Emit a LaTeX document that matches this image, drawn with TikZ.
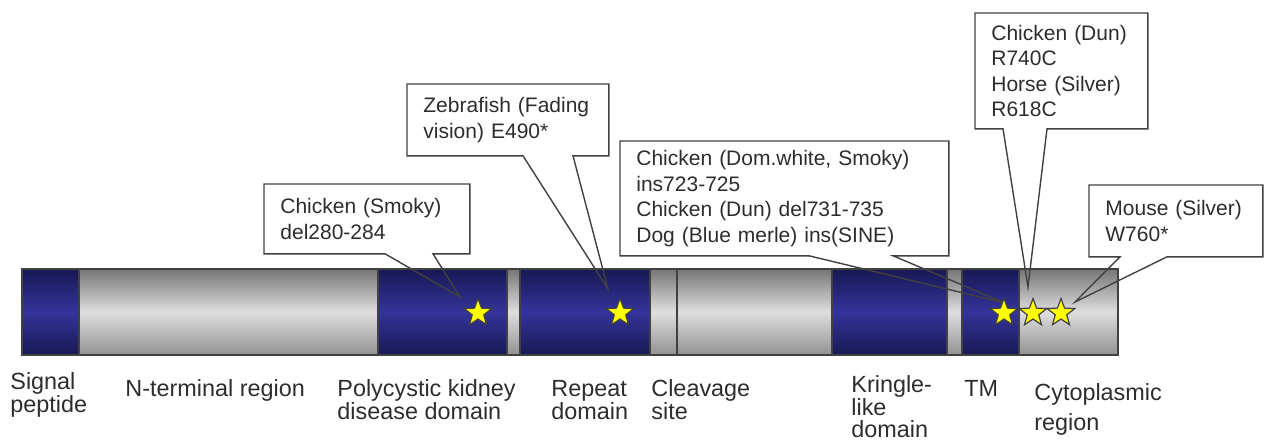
\documentclass[tikz,border=0pt]{standalone}
\usepackage{fontspec}
\setmainfont{Liberation Sans}
\usepackage{tikz}
\usetikzlibrary{shapes.geometric, calc}
\definecolor{domblue}{RGB}{52,52,155}
\definecolor{domnavy}{RGB}{24,24,84}
\definecolor{reglight}{RGB}{222,222,224}
\definecolor{regdark}{RGB}{118,118,118}
\definecolor{txtgray}{RGB}{45,45,45}
\definecolor{edgegray}{RGB}{65,65,65}
\definecolor{staryellow}{RGB}{255,255,0}
\newcommand{\notefont}{\fontsize{10.5pt}{12.8pt}\selectfont\hyphenpenalty=10000}
\newcommand{\domfont}{\fontsize{11.7pt}{11.8pt}\selectfont}
\tikzset{
  bluebar/.style={draw=edgegray, line width=0.8pt,
    top color=domnavy, bottom color=domnavy, middle color=domblue},
  graybar/.style={draw=edgegray, line width=0.8pt,
    top color=regdark, bottom color=regdark!80!white, middle color=reglight},
  mutstar/.style={star, star points=5, star point ratio=2.4,
    draw=edgegray, fill=staryellow, minimum size=14.5pt,
    inner sep=0pt, line width=0.6pt},
  notebox/.style={fill=white, text=txtgray, align=left, font=\notefont,
    inner xsep=8pt, inner ysep=0pt, anchor=north west},
  pointer/.style={draw=edgegray, line width=0.7pt, line join=miter},
  domlabel/.style={text=txtgray, align=left, font=\domfont,
    inner sep=0pt, anchor=base west}
}
\begin{document}
\begin{tikzpicture}[x=0.5pt, y=-0.5pt]
  \useasboundingbox (0,0) rectangle (1264,440);

  % protein bar
  \draw[bluebar] (22,269) rectangle (79,355);
  \draw[graybar] (79,269) rectangle (378,355);
  \draw[bluebar] (378,269) rectangle (507,355);
  \draw[graybar] (507,269) rectangle (520,355);
  \draw[bluebar] (520,269) rectangle (650,355);
  \draw[graybar] (650,269) rectangle (677,355);
  \draw[graybar] (677,269) rectangle (832,355);
  \draw[bluebar] (832,269) rectangle (947,355);
  \draw[graybar] (947,269) rectangle (962,355);
  \draw[bluebar] (962,269) rectangle (1019,355);
  \draw[graybar] (1019,269) rectangle (1118,355);

  % domain names (base = last line)
  \node[domlabel] (lsignal) at (10,412.6) {Signal\\peptide};
  \node[domlabel] (lnterm) at (125,396) {N-terminal region};
  \node[domlabel] (lpkd) at (337,419.6) {Polycystic kidney\\disease domain};
  \node[domlabel] (lrepeat) at (551,419.6) {Repeat\\domain};
  \node[domlabel] (lcleave) at (651,419.6) {Cleavage\\site};
  \node[domlabel, font=\fontsize{11.7pt}{10.8pt}\selectfont] (lkringle) at (851,437.5)
    {Kringle-\\like\\domain};
  \node[domlabel] (ltm) at (964,396) {TM};
  \node[domlabel] (lcyto) at (1034,430) {Cytoplasmic\\[2.8pt]region};

  % mutation callouts
  \coordinate (tsmoky) at (460,297);
  \coordinate (tzebra) at (608,289);
  \coordinate (tdomwhite) at (1005,303);
  \coordinate (tdun) at (1028,287);
  \coordinate (tmouse) at (1075,302);

  \node[notebox, text width=86.5pt, minimum height=34.5pt] (smoky) at (264,184)
    {Chicken (Smoky)\\del280-284};
  \draw[pointer] ($(smoky.south west)+(121,0)$) -| (smoky.north west)
    -| (smoky.south east) -- ($(smoky.south west)+(169,0)$) -- (tsmoky) -- cycle;

  \node[notebox, text width=84.5pt, minimum height=35.5pt] (zebra) at (407,84)
    {Zebrafish (Fading\\vision) E490*};
  \draw[pointer] ($(zebra.south west)+(116,0)$) -| (zebra.north west)
    -| (zebra.south east) -- ($(zebra.south west)+(166,0)$) -- (tzebra) -- cycle;

  \node[notebox, text width=148pt, minimum height=57pt] (domwhite) at (620,141)
    {Chicken (Dom.white, Smoky)\\ins723-725\\Chicken (Dun) del731-735\\Dog (Blue merle) ins(SINE)};
  \draw[pointer] ($(domwhite.south west)+(189,0)$) -| (domwhite.north west)
    -| (domwhite.south east) -- ($(domwhite.south west)+(273,0)$) -- (tdomwhite) -- cycle;

  \node[notebox, text width=70pt, minimum height=57.5pt] (dun) at (975,13)
    {Chicken (Dun)\\R740C\\Horse (Silver)\\R618C};
  \draw[pointer] ($(dun.south west)+(28,0)$) -| (dun.north west)
    -| (dun.south east) -- ($(dun.south west)+(72,0)$) -- (tdun) -- cycle;

  \node[notebox, text width=70.5pt, minimum height=35.5pt] (mouse) at (1089,185)
    {Mouse (Silver)\\W760*};
  \draw[pointer] ($(mouse.south west)+(31,0)$) -| (mouse.north west)
    -| (mouse.south east) -- ($(mouse.south west)+(78,0)$) -- (tmouse) -- cycle;

  % mutation sites
  \node[mutstar] (s1) at (478,313) {};
  \node[mutstar] (s2) at (620,313) {};
  \node[mutstar] (s3) at (1004,313) {};
  \node[mutstar] (s4) at (1033,313) {};
  \node[mutstar] (s5) at (1061,313) {};
\end{tikzpicture}
\end{document}
